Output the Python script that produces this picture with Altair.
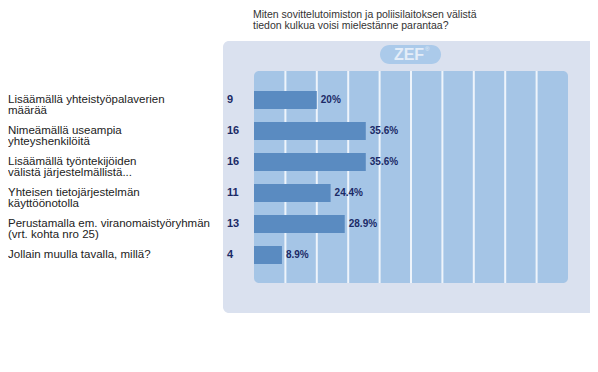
import altair as alt
import pandas as pd

categories = [
    "Lisäämällä yhteistyöpalaverien\nmäärää",
    "Nimeämällä useampia\nyhteyshenkilöitä",
    "Lisäämällä työntekijöiden\nvälistä järjestelmällistä...",
    "Yhteisen tietojärjestelmän\nkäyttöönotolla",
    "Perustamalla em. viranomaistyöryhmän\n(vrt. kohta nro 25)",
    "Jollain muulla tavalla, millä?",
]
counts = [9, 16, 16, 11, 13, 4]
percents = [20.0, 35.6, 35.6, 24.4, 28.9, 8.9]
pct_labels = ["20%", "35.6%", "35.6%", "24.4%", "28.9%", "8.9%"]
grid_ticks = [10, 20, 30, 40, 50, 60, 70, 80, 90]
title_text = "Miten sovittelutoimiston ja poliisilaitoksen välistä\ntiedon kulkua voisi mielestänne parantaa?"

df = pd.DataFrame({
    "cat": categories,
    "n": [str(c) for c in counts],
    "pct": percents,
    "lab": pct_labels,
})
ticks = pd.DataFrame({"t": grid_ticks})
one = pd.DataFrame({"a": [0]})

FONT = "Liberation Sans"
NAVY = "#1b2a66"

xs = alt.Scale(domain=[0, 100], range=[246, 560], zero=True, nice=False)
ys = alt.Scale(domain=categories, range=[83, 256], paddingInner=0.42, paddingOuter=0)

outer = alt.Chart(one).mark_rect(color="#dae1ef", cornerRadius=6).encode(
    x=alt.value(215), x2=alt.value(589), y=alt.value(33), y2=alt.value(305))
inner = alt.Chart(one).mark_rect(color="#a5c5e6", cornerRadius=5).encode(
    x=alt.value(246), x2=alt.value(560), y=alt.value(63), y2=alt.value(275))
pill = alt.Chart(one).mark_rect(color="#abcaea", cornerRadius=10).encode(
    x=alt.value(372), x2=alt.value(433), y=alt.value(37), y2=alt.value(56))
zef = alt.Chart(one).mark_text(text="ZEF", font=FONT, fontSize=16, fontWeight="bold",
                               color="#e4edf8", align="center", baseline="middle").encode(
    x=alt.value(401), y=alt.value(47))
reg = alt.Chart(one).mark_text(text="®", font=FONT, fontSize=6, color="#e4edf8",
                               align="left", baseline="middle").encode(
    x=alt.value(417), y=alt.value(41))

grid = alt.Chart(ticks).mark_rule(color="#eef4fb", strokeWidth=2).encode(
    x=alt.X("t:Q", scale=xs, axis=None), y=alt.value(63), y2=alt.value(275))

bars = alt.Chart(df).mark_bar(color="#5a8bc1").encode(
    x=alt.X("pct:Q", scale=xs, axis=None),
    y=alt.Y("cat:N", scale=ys, axis=None, sort=categories))

pcts = alt.Chart(df).mark_text(font=FONT, fontSize=10, fontWeight="bold", color=NAVY,
                               align="left", baseline="middle", dx=4).encode(
    x=alt.X("pct:Q", scale=xs, axis=None),
    y=alt.Y("cat:N", scale=ys, axis=None, sort=categories),
    text="lab:N")

nums = alt.Chart(df).mark_text(font=FONT, fontSize=11, fontWeight="bold", color=NAVY,
                               align="left", baseline="middle").encode(
    x=alt.value(219),
    y=alt.Y("cat:N", scale=ys, axis=None, sort=categories),
    text="n:N")

labels = alt.Chart(df).mark_text(font=FONT, fontSize=11.5, color="#222222", align="left",
                                 baseline="middle", lineBreak="\n", lineHeight=11).encode(
    x=alt.value(0),
    y=alt.Y("cat:N", scale=ys, axis=None, sort=categories),
    text="cat:N")

title = alt.Chart(one).mark_text(
    text=title_text, font=FONT, fontSize=10.5, color="#333333", align="left",
    baseline="alphabetic", lineBreak="\n", lineHeight=11).encode(
    x=alt.value(245), y=alt.value(10))

chart = alt.layer(outer, inner, pill, zef, reg, grid, bars, pcts, nums, labels, title).properties(
    width=582, height=356, padding=0, autosize=alt.AutoSizeParams(type="none"),
    background="white"
).configure_view(stroke=None)

chart.save("out.html", embed_options={"renderer": "svg", "actions": False})
